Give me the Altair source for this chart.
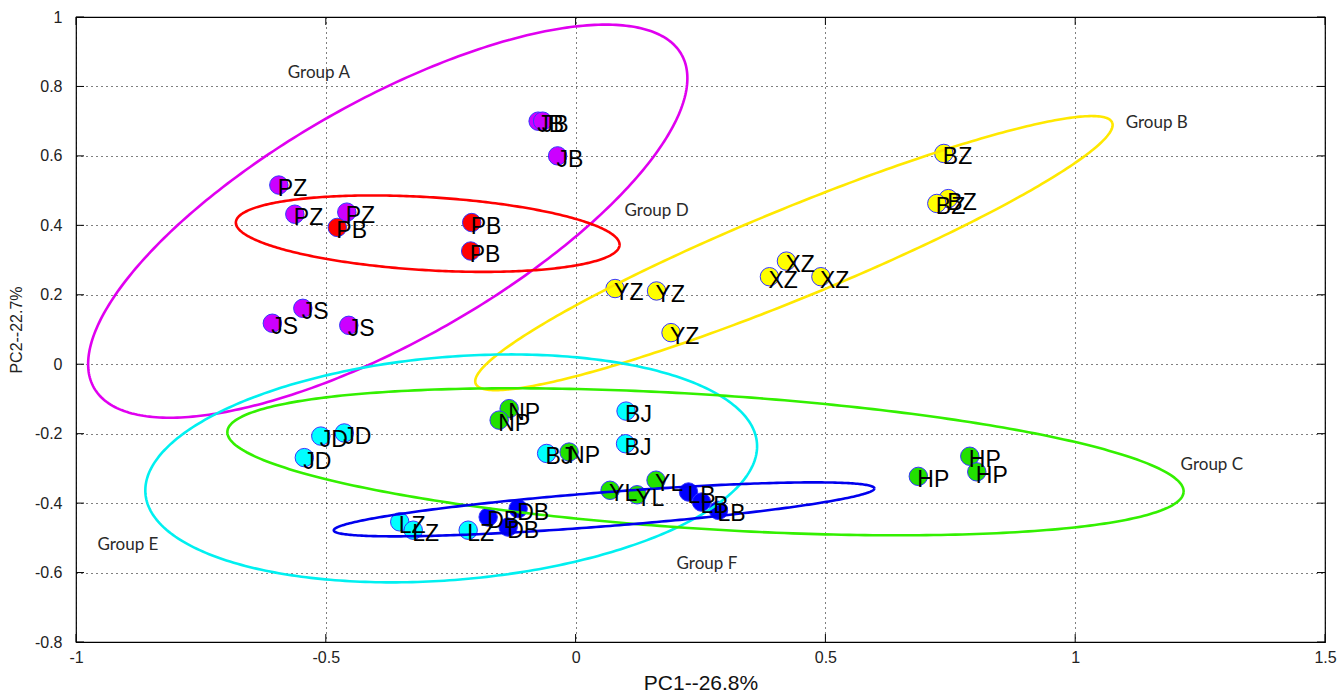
import altair as alt
import pandas as pd
import numpy as np

# ---- sample points (PC1, PC2) ----
names = ["JB", "JB", "JB", "PZ", "PZ", "PZ", "JS", "JS", "JS",
         "PB", "PB", "PB",
         "YZ", "YZ", "YZ", "XZ", "XZ", "XZ", "BZ", "BZ", "BZ",
         "JD", "JD", "JD", "BJ", "BJ", "BJ", "LZ", "LZ", "LZ",
         "NP", "NP", "NP", "YL", "YL", "YL", "HP", "HP", "HP",
         "DB", "DB", "DB", "LB", "LB", "LB"]
pc1 = [-0.075, -0.066, -0.036, -0.594, -0.562, -0.458, -0.546, -0.607, -0.454,
       -0.477, -0.208, -0.210,
       0.079, 0.162, 0.191, 0.422, 0.388, 0.491, 0.737, 0.746, 0.723,
       -0.510, -0.463, -0.543, -0.058, 0.101, 0.100, -0.352, -0.325, -0.215,
       -0.133, -0.153, -0.013, 0.069, 0.123, 0.161, 0.686, 0.789, 0.803,
       -0.175, -0.115, -0.135, 0.226, 0.252, 0.286]
pc2 = [0.700, 0.700, 0.600, 0.516, 0.432, 0.438, 0.161, 0.118, 0.112,
       0.394, 0.408, 0.326,
       0.218, 0.211, 0.091, 0.297, 0.252, 0.252, 0.607, 0.477, 0.463,
       -0.207, -0.198, -0.269, -0.257, -0.135, -0.229, -0.454, -0.478, -0.478,
       -0.128, -0.161, -0.253, -0.363, -0.376, -0.334, -0.323, -0.265, -0.310,
       -0.440, -0.416, -0.469, -0.368, -0.397, -0.421]
point_colors = {
    "JB": "#CC00FF", "PZ": "#CC00FF", "JS": "#CC00FF",
    "PB": "#FF0000",
    "YZ": "#FFFF00", "XZ": "#FFFF00", "BZ": "#FFFF00",
    "JD": "#00FFFF", "BJ": "#00FFFF", "LZ": "#00FFFF",
    "NP": "#22E000", "YL": "#22E000", "HP": "#22E000",
    "DB": "#0000FF", "LB": "#0000FF",
}

# ---- group ellipses: centre and two conjugate semi-axis vectors (data units) ----
ell_names = ["A", "D", "B", "E", "C", "F"]
ell_colors = ["#E000F0", "#FF0000", "#FFE800", "#00F0F0", "#33F000", "#0000EE"]
ell_cx = [-0.376, -0.296, 0.437, -0.249, 0.260, 0.057]
ell_cy = [0.412, 0.376, 0.320, -0.300, -0.281, -0.418]
ell_ux = [0.588, 0.384, 0.637, 0.612, 0.957, 0.541]
ell_uy = [0.480, -0.033, 0.376, 0.073, -0.087, 0.0605]
ell_vx = [0.118, -0.0044, 0.034, 0.018, -0.0084, 0.0026]
ell_vy = [-0.300, -0.105, -0.120, -0.320, -0.193, -0.0488]

# ---- group captions ----
cap_text = ["Group A", "Group B", "Group D", "Group C", "Group E", "Group F"]
cap_x = [-0.576, 1.101, 0.098, 1.211, -0.957, 0.202]
cap_y = [0.839, 0.695, 0.441, -0.291, -0.522, -0.576]

xticks = [-1, -0.5, 0, 0.5, 1, 1.5]
yticks = [-0.8, -0.6, -0.4, -0.2, 0, 0.2, 0.4, 0.6, 0.8, 1]

W, H = 1249, 625
FONT = "Liberation Sans"

pts = pd.DataFrame({"name": names, "x": pc1, "y": pc2,
                    "c": [point_colors[n] for n in names],
                    "i": list(range(len(names)))})

t = np.linspace(0, 2 * np.pi, 361)
rows = []
for k, g in enumerate(ell_names):
    for j, tt in enumerate(t):
        rows.append({"g": g, "c": ell_colors[k], "o": j,
                     "x": ell_cx[k] + ell_ux[k] * np.cos(tt) + ell_vx[k] * np.sin(tt),
                     "y": ell_cy[k] + ell_uy[k] * np.cos(tt) + ell_vy[k] * np.sin(tt)})
ell = pd.DataFrame(rows)
caps = pd.DataFrame({"t": cap_text, "x": cap_x, "y": cap_y})

xs = alt.Scale(domain=[-1, 1.5], nice=False, zero=False)
ys = alt.Scale(domain=[-0.8, 1], nice=False, zero=False)

xaxis = alt.Axis(values=xticks, labelExpr="'' + datum.value", title="PC1--26.8%",
                 grid=True, gridDash=[1, 4], gridColor="#000000", gridOpacity=1,
                 gridWidth=1,
                 ticks=False, domain=False, labelPadding=7, labelFontSize=16,
                 labelColor="#222222", titleFontSize=21, titleFontWeight="normal",
                 titlePadding=7, labelFont=FONT, titleFont=FONT,
                 titleColor="#111111", labelFlush=False)
yaxis = alt.Axis(values=yticks, labelExpr="'' + datum.value", title="PC2--22.7%",
                 grid=True, gridDash=[1, 4], gridColor="#000000", gridOpacity=1,
                 gridWidth=1,
                 ticks=False, domain=False, labelPadding=14, labelFontSize=16,
                 labelColor="#222222", titleFontSize=16, titleFontWeight="normal",
                 titlePadding=10, labelFont=FONT, titleFont=FONT,
                 titleColor="#222222", labelFlush=False)

base_pts = alt.Chart(pts)

points = base_pts.mark_point(filled=True, shape="circle", size=340, opacity=1,
                             stroke="#3535FF", strokeWidth=1).encode(
    x=alt.X("x:Q", scale=xs, axis=xaxis),
    y=alt.Y("y:Q", scale=ys, axis=yaxis),
    fill=alt.Fill("c:N", scale=None),
    order=alt.Order("i:Q"),
)

ellipses = alt.Chart(ell).mark_line(strokeWidth=2.6).encode(
    x=alt.X("x:Q", scale=xs),
    y=alt.Y("y:Q", scale=ys),
    color=alt.Color("c:N", scale=None),
    detail="g:N",
    order="o:Q",
)

labels = base_pts.mark_text(align="left", baseline="middle", dx=-1, dy=4,
                            fontSize=23, font=FONT, color="#000000").encode(
    x=alt.X("x:Q", scale=xs),
    y=alt.Y("y:Q", scale=ys),
    text="name:N",
)

captions = alt.Chart(caps).mark_text(align="left", baseline="middle", fontSize=17,
                                     font="Lato", color="#2a2a2a").encode(
    x=alt.X("x:Q", scale=xs),
    y=alt.Y("y:Q", scale=ys),
    text="t:N",
)

xt = pd.DataFrame({"v": xticks})
yt = pd.DataFrame({"v": yticks})
tick_b = alt.Chart(xt).mark_rule(color="black", strokeWidth=1).encode(
    x=alt.X("v:Q", scale=xs), y=alt.value(H), y2=alt.value(H - 8))
tick_t = alt.Chart(xt).mark_rule(color="black", strokeWidth=1).encode(
    x=alt.X("v:Q", scale=xs), y=alt.value(0), y2=alt.value(8))
tick_l = alt.Chart(yt).mark_rule(color="black", strokeWidth=1).encode(
    y=alt.Y("v:Q", scale=ys), x=alt.value(0), x2=alt.value(8))
tick_r = alt.Chart(yt).mark_rule(color="black", strokeWidth=1).encode(
    y=alt.Y("v:Q", scale=ys), x=alt.value(W), x2=alt.value(W - 8))

chart = alt.layer(points, ellipses, labels, captions, tick_b, tick_t, tick_l, tick_r).properties(
    width=W, height=H,
    autosize=alt.AutoSizeParams(type="none"),
    padding={"left": 76, "top": 17, "right": 17, "bottom": 56},
    background="white",
).configure_view(stroke="black", strokeWidth=1.2)

chart.save("out.html", embed_options={"renderer": "svg", "actions": False})
